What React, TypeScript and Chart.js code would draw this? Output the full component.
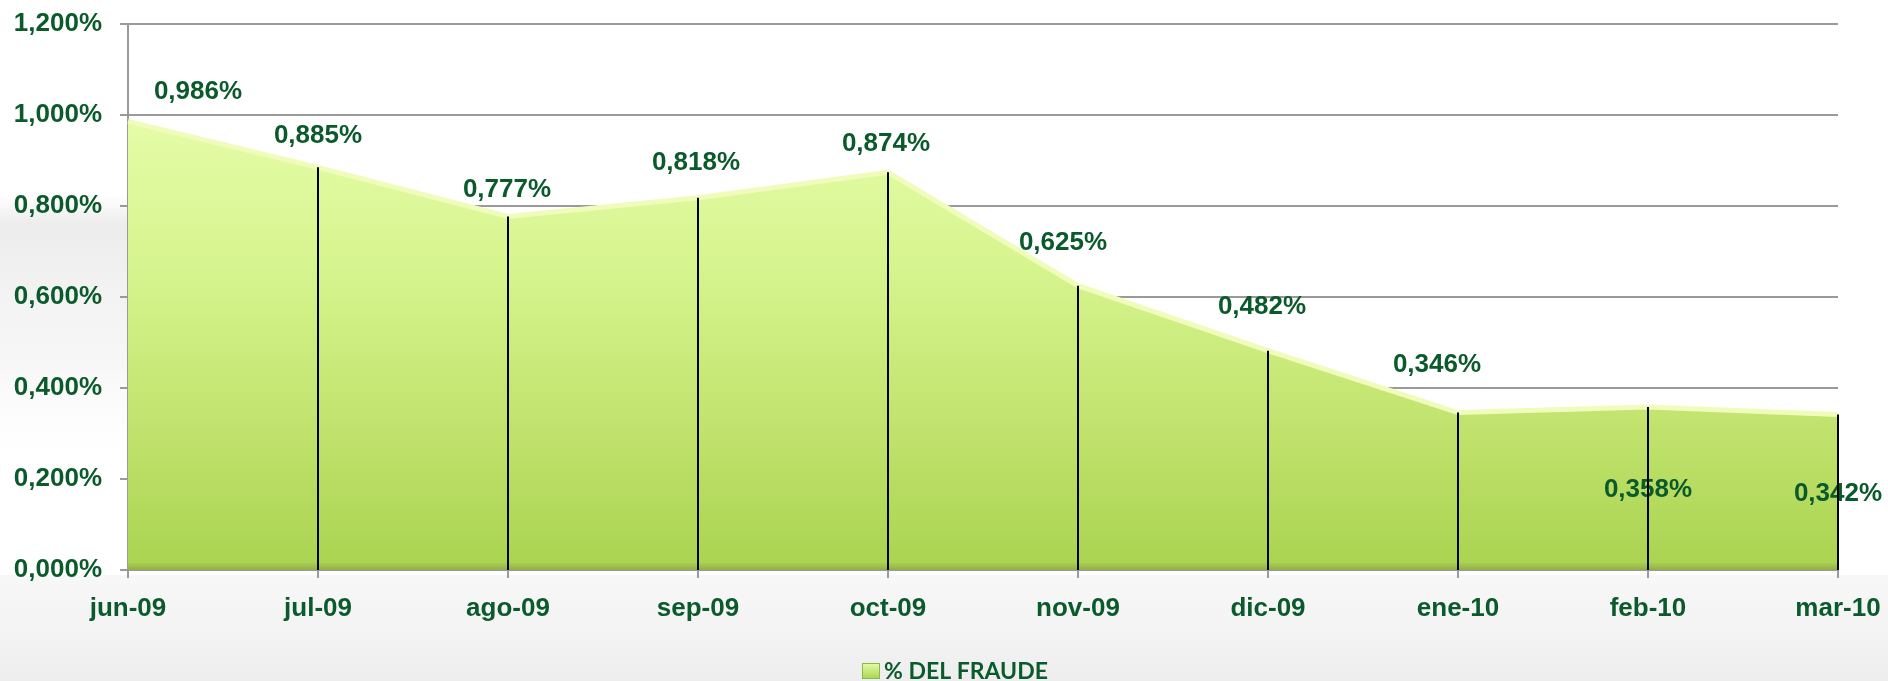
import React, { useEffect, useRef } from 'react';
import { Chart, registerables } from 'chart.js';

Chart.register(...registerables);

const categories = ['jun-09', 'jul-09', 'ago-09', 'sep-09', 'oct-09', 'nov-09', 'dic-09', 'ene-10', 'feb-10', 'mar-10'];
const fraudPct = [0.986, 0.885, 0.777, 0.818, 0.874, 0.625, 0.482, 0.346, 0.358, 0.342];
const seriesName = '% DEL FRAUDE';
const yMin = 0;
const yMax = 1.2;
const yStep = 0.2;

const GREEN_TEXT = '#0b5a2b';
const AXIS_FONT = '"Liberation Sans", Arial, sans-serif';

const fmt = (v: number) => v.toFixed(3).replace('.', ',') + '%';

// label placement relative to each point (style only)
const labelDx = [70, 0, -1, -2, -2, -15, -6, -21, 0, 0];
const labelDy = [-30, -31, -27, -35, -29, -43, -44, -48, 83, 79];

const backgroundPlugin = {
  id: 'bg',
  beforeDraw(chart: any) {
    const ctx = chart.ctx;
    const w = chart.width;
    const h = chart.height;
    ctx.save();
    ctx.fillStyle = '#ffffff';
    ctx.fillRect(0, 0, w, h);
    // faint grey swoosh on the left
    const gl = ctx.createLinearGradient(0, 195, 0, 480);
    gl.addColorStop(0, 'rgba(232,232,232,0)');
    gl.addColorStop(0.1, 'rgba(232,232,232,0.8)');
    gl.addColorStop(0.6, 'rgba(242,242,242,0.6)');
    gl.addColorStop(1, 'rgba(255,255,255,0)');
    ctx.fillStyle = gl;
    ctx.fillRect(0, 195, 300, 285);
    // faint grey band under the axis
    const gb = ctx.createLinearGradient(0, 575, 0, h);
    gb.addColorStop(0, 'rgba(240,240,240,0.5)');
    gb.addColorStop(1, 'rgba(236,236,236,0.9)');
    ctx.fillStyle = gb;
    ctx.fillRect(0, 575, w, h - 575);
    ctx.restore();
  },
};

const overlayPlugin = {
  id: 'overlay',
  afterDatasetsDraw(chart: any) {
    const ctx = chart.ctx;
    const meta = chart.getDatasetMeta(0);
    const ca = chart.chartArea;
    ctx.save();
    // darker bevel at the bottom of the area
    const gb = ctx.createLinearGradient(0, ca.bottom - 8, 0, ca.bottom);
    gb.addColorStop(0, 'rgba(140,170,70,0)');
    gb.addColorStop(1, 'rgba(140,165,70,0.85)');
    ctx.fillStyle = gb;
    ctx.fillRect(ca.left, ca.bottom - 8, ca.right - ca.left, 8);
    // data labels
    ctx.font = `bold 26px ${AXIS_FONT}`;
    ctx.fillStyle = GREEN_TEXT;
    ctx.textAlign = 'center';
    ctx.textBaseline = 'middle';
    meta.data.forEach((pt: any, i: number) => {
      ctx.fillText(fmt(fraudPct[i]), pt.x + labelDx[i], pt.y + labelDy[i]);
    });
    // drop lines
    ctx.strokeStyle = '#000';
    ctx.lineWidth = 2;
    meta.data.forEach((pt: any, i: number) => {
      if (i === 0) return;
      ctx.beginPath();
      ctx.moveTo(Math.round(pt.x), pt.y);
      ctx.lineTo(Math.round(pt.x), ca.bottom);
      ctx.stroke();
    });
    ctx.restore();
  },
  afterDraw(chart: any) {
    const ctx = chart.ctx;
    ctx.save();
    // legend
    const g = ctx.createLinearGradient(0, 663, 0, 680);
    g.addColorStop(0, '#e6fca8');
    g.addColorStop(1, '#a6d24c');
    ctx.fillStyle = g;
    ctx.fillRect(862, 663, 18, 16);
    ctx.strokeStyle = '#8fb84a';
    ctx.lineWidth = 1;
    ctx.strokeRect(862.5, 663.5, 17, 15);
    ctx.font = `bold 23px Lato, "Open Sans", sans-serif`;
    ctx.fillStyle = GREEN_TEXT;
    ctx.textAlign = 'left';
    ctx.textBaseline = 'alphabetic';
    ctx.fillText(seriesName, 884, 679);
    ctx.restore();
  },
};

export default function App() {
  const ref = useRef<HTMLCanvasElement>(null);
  useEffect(() => {
    document.body.style.margin = '0';
    const canvas = ref.current!;
    const chart = new Chart(canvas, {
      type: 'line',
      data: {
        labels: categories,
        datasets: [
          {
            label: seriesName,
            data: fraudPct,
            fill: 'origin',
            tension: 0,
            pointRadius: 0,
            borderColor: '#f0fcbc',
            borderWidth: 5,
            backgroundColor: (c: any) => {
              const ca = c.chart.chartArea;
              if (!ca) return '#c8ec80';
              const g = c.chart.ctx.createLinearGradient(0, ca.top, 0, ca.bottom);
              g.addColorStop(0.15, '#e6fdaa');
              g.addColorStop(0.45, '#d6f48e');
              g.addColorStop(0.75, '#c0e26c');
              g.addColorStop(1, '#aad350');
              return g;
            },
          },
        ],
      },
      options: {
        animation: false,
        responsive: false,
        layout: { padding: { left: 0, right: 50, top: 24, bottom: 0 } },
        plugins: { legend: { display: false }, tooltip: { enabled: false } },
        scales: {
          x: {
            type: 'category',
            offset: false,
            grid: { drawOnChartArea: false, drawTicks: true, tickLength: 8, color: '#9a9a9a', lineWidth: 2 },
            border: { color: '#9a9a9a', width: 2 },
            ticks: {
              color: GREEN_TEXT,
              font: { family: AXIS_FONT, weight: 'bold', size: 26 },
              padding: 15,
              maxRotation: 0,
              autoSkip: false,
            },
            afterFit(s: any) {
              s.height = 111;
              s.paddingLeft = 0;
              s.paddingRight = 0;
            },
          },
          y: {
            min: yMin,
            max: yMax,
            grid: { color: '#9a9a9a', lineWidth: 2, tickLength: 8, drawTicks: true },
            border: { color: '#9a9a9a', width: 2 },
            ticks: {
              stepSize: yStep,
              color: GREEN_TEXT,
              font: { family: AXIS_FONT, weight: 'bold', size: 26 },
              padding: 18,
              callback: (v: any) => fmt(Number(v)),
            },
            afterFit(s: any) {
              s.width = 128;
              s.paddingTop = 0;
              s.paddingBottom = 0;
            },
          },
        },
      },
      plugins: [backgroundPlugin, overlayPlugin],
    } as any);
    return () => chart.destroy();
  }, []);
  return (
    <div style={{ position: 'absolute', left: 0, top: 0, width: 1888, height: 681, background: '#fff' }}>
      <canvas ref={ref} width={1888} height={681} style={{ display: 'block' }} />
    </div>
  );
}
